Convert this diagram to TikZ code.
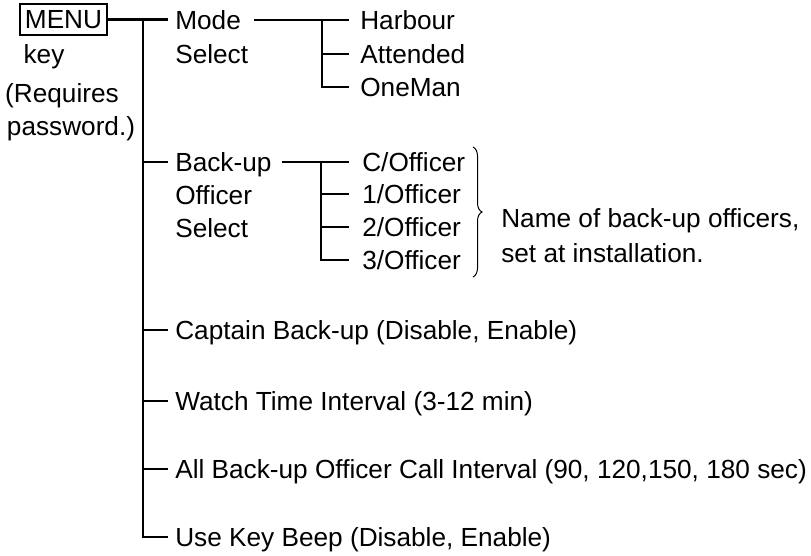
\documentclass[tikz,border=0pt]{standalone}
\usepackage{fontspec}
\setmainfont{Liberation Sans}
\usetikzlibrary{positioning,decorations.pathreplacing}
\begin{document}
\begin{tikzpicture}[x=1pt,y=-1pt,line width=2.6pt,
 every node/.style={font=\fontsize{26.2}{31}\selectfont},
 item/.style={anchor=west,inner xsep=6pt,inner ysep=0pt,text height=19pt,text depth=0pt},
 leaf/.style={item,inner xsep=10pt},
 note/.style={item,inner xsep=0pt}]
\useasboundingbox(0,0)rectangle(811,555);
\node[draw,line width=1.8pt,minimum width=87pt,minimum height=31pt,inner sep=0pt](menu)at(63.5,19.5){MENU};
\node(key)at(44,57){key};
\node(req)at(62,96){(Requires};
\node(pw)at(71,129){password.)};
\coordinate(trunk)at(143,0);
\node[item](mode)at(168,20){Mode};
\node[item](modesel)at(168,54){Select};
\node[item](backup)at(168,162){Back-up};
\node[item](officer)at(168,195){Officer};
\node[item](offsel)at(168,228){Select};
\node[item](capt)at(168,330){Captain Back-up (Disable, Enable)};
\node[item](watch)at(168,401){Watch Time Interval (3-12 min)};
\node[item](allcall)at(168,469){All Back-up Officer Call Interval (90, 120,150, 180 sec)};
\node[item](beep)at(168,537){Use Key Beep (Disable, Enable)};
\draw(menu.east)--(menu.east-|mode.west);
\draw(menu.east-|trunk)|-(beep.west);
\foreach\n in{backup,capt,watch,allcall}{\draw(\n.west-|trunk)--(\n.west);}
\coordinate(modetrunk)at(322,0);
\node[leaf](harbour)at(349,20){Harbour};
\node[leaf](attended)at(349,54){Attended};
\node[leaf](oneman)at(349,87){OneMan};
\draw[shorten <=6pt](mode.east)--(harbour.west);
\draw(harbour.west-|modetrunk)|-(oneman.west);
\draw(attended.west-|modetrunk)--(attended.west);
\coordinate(offtrunk)at(321,0);
\foreach\n/\y/\t in{coff/162/C,off1/194/1,off2/227/2,off3/260/3}{\node[leaf,inner xsep=12pt](\n)at(349,\y){\t/Officer};}
\draw[shorten <=3pt](backup.east)--(coff.west);
\draw(coff.west-|offtrunk)|-(off3.west);
\foreach\n in{off1,off2}{\draw(\n.west-|offtrunk)--(\n.west);}
\coordinate(bt)at(473,147);\coordinate(bb)at(473,277);
\draw[line width=1pt,decorate,decoration={brace,amplitude=9pt}](bt)--(bb);
\node[note](names)at(500,218){Name of back-up officers,};
\node[note](setat)at(500,253){set at installation.};
\end{tikzpicture}
\end{document}
